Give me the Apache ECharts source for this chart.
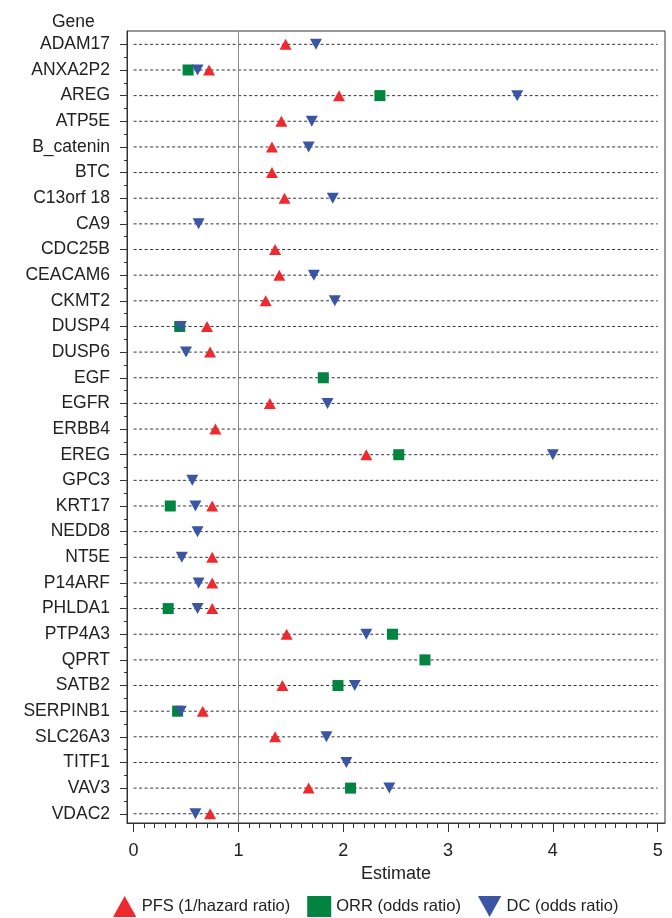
<!DOCTYPE html>
<html><head><meta charset="utf-8">
<script src="https://cdn.jsdelivr.net/npm/echarts@6/dist/echarts.min.js"></script>
<style>html,body{margin:0;padding:0;background:#fff}#c{width:672px;height:918px}</style>
</head><body><div id="c"></div>
<script>
const genes = ["ADAM17","ANXA2P2","AREG","ATP5E","B_catenin","BTC","C13orf 18","CA9","CDC25B","CEACAM6","CKMT2","DUSP4","DUSP6","EGF","EGFR","ERBB4","EREG","GPC3","KRT17","NEDD8","NT5E","P14ARF","PHLDA1","PTP4A3","QPRT","SATB2","SERPINB1","SLC26A3","TITF1","VAV3","VDAC2"];
const pfs = [1.45,0.72,1.96,1.41,1.32,1.32,1.44,null,1.35,1.39,1.26,0.70,0.73,null,1.30,0.78,2.22,null,0.75,null,0.75,0.75,0.75,1.46,null,1.42,0.66,1.35,null,1.67,0.73];
const orr = [null,0.52,2.35,null,null,null,null,null,null,null,null,0.44,null,1.81,null,null,2.53,null,0.35,null,null,null,0.33,2.47,2.78,1.95,0.42,null,null,2.07,null];
const dc  = [1.74,0.61,3.66,1.70,1.67,null,1.90,0.62,null,1.72,1.92,0.45,0.50,null,1.85,null,4.00,0.56,0.59,0.61,0.46,0.62,0.61,2.22,null,2.11,0.45,1.84,2.03,2.44,0.59];
const xTicks = [0,1,2,3,4,5];
const xMinorTicks = [];
for (let i = 0; i <= 50; i++) { if (i % 10 !== 0) xMinorTicks.push(i / 10); }
const yTicks = genes.map((g, i) => i);
const yMinorTicks = genes.slice(1).map((g, i) => i + 0.5);

const toData = arr => genes.map((g, i) => arr[i] == null ? null : [arr[i], i]).filter(d => d);
const downTri = 'path://M0,0 L10,0 L5,9 Z';
const upTri = 'path://M5,0 L10,9 L0,9 Z';
const font = 'Liberation Sans, Arial, sans-serif';
const txt = '#222';

const chart = echarts.init(document.getElementById('c'));
chart.setOption({
  animation: false,
  textStyle: { fontFamily: font },
  grid: { left: 127, right: 7, top: 31, bottom: 95, show: true, borderColor: '#333', borderWidth: 1, containLabel: false },
  graphic: [{ type: 'text', left: 52, top: 13, style: { text: 'Gene', fontSize: 17.5, fill: txt, fontFamily: font } }],
  xAxis: [{
    type: 'value', min: -0.063, max: 5.07,
    name: 'Estimate', nameLocation: 'middle', nameGap: 42,
    nameTextStyle: { fontSize: 18, color: txt, fontFamily: font },
    axisLine: { show: true, onZero: false, lineStyle: { color: '#333' } },
    axisTick: { show: true, length: 9, customValues: xTicks, lineStyle: { color: '#333' } },
    axisLabel: { customValues: xTicks, fontSize: 18, color: txt, margin: 19, fontFamily: font },
    splitLine: { show: false }
  }, {
    type: 'value', min: -0.063, max: 5.07, position: 'bottom',
    axisLine: { show: false, onZero: false },
    axisTick: { show: true, length: 5, customValues: xMinorTicks, lineStyle: { color: '#333' } },
    axisLabel: { show: false },
    splitLine: { show: false }
  }],
  yAxis: [{
    type: 'value', inverse: true, min: -0.52, max: 30.36,
    axisLine: { show: true, onZero: false, lineStyle: { color: '#333' } },
    axisTick: { show: true, length: 7, customValues: yTicks, lineStyle: { color: '#333' } },
    axisLabel: { customValues: yTicks, formatter: v => genes[Math.round(v)] || '', fontSize: 17.5, color: txt, margin: 17, fontFamily: font },
    splitLine: { show: false }
  }, {
    type: 'value', inverse: true, min: -0.52, max: 30.36, position: 'left',
    axisLine: { show: false, onZero: false },
    axisTick: { show: true, length: 3, customValues: yMinorTicks, lineStyle: { color: '#333' } },
    axisLabel: { show: false },
    splitLine: { show: false }
  }],
  legend: {
    top: 891, left: 108, itemWidth: 24, itemHeight: 21, itemGap: 17,
    textStyle: { fontSize: 16.5, color: txt, fontFamily: font },
    data: [
      { name: 'PFS (1/hazard ratio)', icon: upTri },
      { name: 'ORR (odds ratio)', icon: 'rect' },
      { name: 'DC (odds ratio)', icon: downTri }
    ]
  },
  series: [{
    type: 'custom', silent: true, z: 1,
    data: genes.map((g, i) => [0, 5, i]),
    encode: { x: [0, 1], y: 2 },
    renderItem: (params, api) => {
      const p1 = api.coord([api.value(0), api.value(2)]);
      const p2 = api.coord([api.value(1), api.value(2)]);
      return { type: 'line', shape: { x1: p1[0], y1: p1[1], x2: p2[0], y2: p2[1] },
        style: { stroke: '#333', lineWidth: 1, lineDash: [3, 2.5] } };
    },
    markLine: { silent: true, symbol: 'none', label: { show: false },
      lineStyle: { color: '#8a8a8a', width: 1, type: 'solid' }, data: [{ xAxis: 1 }] }
  }, {
    name: 'ORR (odds ratio)', type: 'scatter', z: 3, symbol: 'rect', symbolSize: [11, 11],
    itemStyle: { color: '#00843F', opacity: 1 }, data: toData(orr)
  }, {
    name: 'DC (odds ratio)', type: 'scatter', z: 4, symbol: downTri, symbolSize: [12, 11],
    itemStyle: { color: '#3A55A4', opacity: 1 }, data: toData(dc)
  }, {
    name: 'PFS (1/hazard ratio)', type: 'scatter', z: 5, symbol: upTri, symbolSize: [12, 11],
    itemStyle: { color: '#EE2A2F', opacity: 1 }, data: toData(pfs)
  }]
});
</script></body></html>
